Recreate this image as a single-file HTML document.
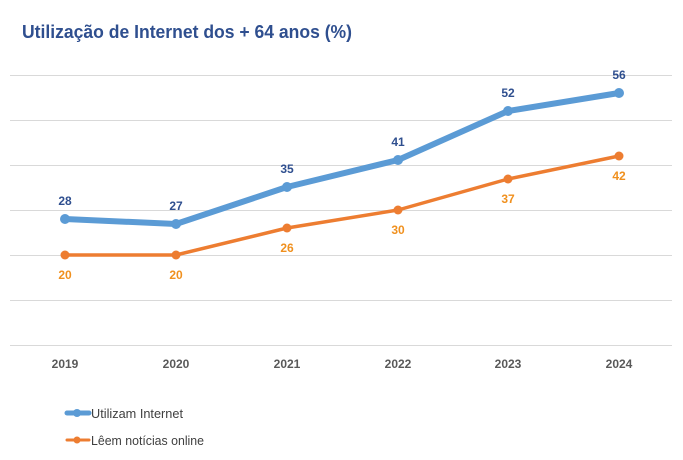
<!DOCTYPE html>
<html><head><meta charset="utf-8"><style>body{margin:0;background:#fff}svg{display:block}</style></head>
<body>
<svg width="683" height="460" xmlns="http://www.w3.org/2000/svg" font-family="Liberation Sans, sans-serif">
<rect width="683" height="460" fill="#fff"/>
<text x="22" y="38" font-size="18" font-weight="bold" fill="#2F4F8F" textLength="330" lengthAdjust="spacingAndGlyphs">Utilização de Internet dos + 64 anos (%)</text>
<g stroke="#d9d9d9" stroke-width="1">
<line x1="10" y1="75.5" x2="672" y2="75.5"/>
<line x1="10" y1="120.5" x2="672" y2="120.5"/>
<line x1="10" y1="165.5" x2="672" y2="165.5"/>
<line x1="10" y1="210.5" x2="672" y2="210.5"/>
<line x1="10" y1="255.5" x2="672" y2="255.5"/>
<line x1="10" y1="300.5" x2="672" y2="300.5"/>
<line x1="10" y1="345.5" x2="672" y2="345.5"/>
</g>
<polyline points="65,219 176,224 287,187 398,160 508,111 619,93" fill="none" stroke="#5B9BD5" stroke-width="6" stroke-linejoin="round"/>
<g fill="#5B9BD5">
<circle cx="65" cy="219" r="5"/><circle cx="176" cy="224" r="5"/><circle cx="287" cy="187" r="5"/><circle cx="398" cy="160" r="5"/><circle cx="508" cy="111" r="5"/><circle cx="619" cy="93" r="5"/>
</g>
<polyline points="65,255 176,255 287,228 398,210 508,179 619,156" fill="none" stroke="#ED7D31" stroke-width="3.5" stroke-linejoin="round"/>
<g fill="#ED7D31">
<circle cx="65" cy="255" r="4.5"/><circle cx="176" cy="255" r="4.5"/><circle cx="287" cy="228" r="4.5"/><circle cx="398" cy="210" r="4.5"/><circle cx="508" cy="179" r="4.5"/><circle cx="619" cy="156" r="4.5"/>
</g>
<g font-size="12" font-weight="bold" fill="#2F4F8F" text-anchor="middle">
<text x="65" y="205">28</text><text x="176" y="210">27</text><text x="287" y="173">35</text><text x="398" y="146">41</text><text x="508" y="97">52</text><text x="619" y="79">56</text>
</g>
<g font-size="12" font-weight="bold" fill="#F0901E" text-anchor="middle">
<text x="65" y="279">20</text><text x="176" y="279">20</text><text x="287" y="252">26</text><text x="398" y="234">30</text><text x="508" y="203">37</text><text x="619" y="180">42</text>
</g>
<g font-size="12" font-weight="bold" fill="#595959" text-anchor="middle">
<text x="65" y="368">2019</text><text x="176" y="368">2020</text><text x="287" y="368">2021</text><text x="398" y="368">2022</text><text x="508" y="368">2023</text><text x="619" y="368">2024</text>
</g>
<line x1="67" y1="413" x2="89" y2="413" stroke="#5B9BD5" stroke-width="5" stroke-linecap="round"/>
<circle cx="77" cy="413" r="4" fill="#5B9BD5"/>
<text x="91" y="418" font-size="13" fill="#404040" textLength="92" lengthAdjust="spacingAndGlyphs">Utilizam Internet</text>
<line x1="67" y1="440" x2="89" y2="440" stroke="#ED7D31" stroke-width="3" stroke-linecap="round"/>
<circle cx="77" cy="440" r="3.5" fill="#ED7D31"/>
<text x="91" y="445" font-size="13" fill="#404040" textLength="113" lengthAdjust="spacingAndGlyphs">Lêem notícias online</text>
</svg>
</body></html>
